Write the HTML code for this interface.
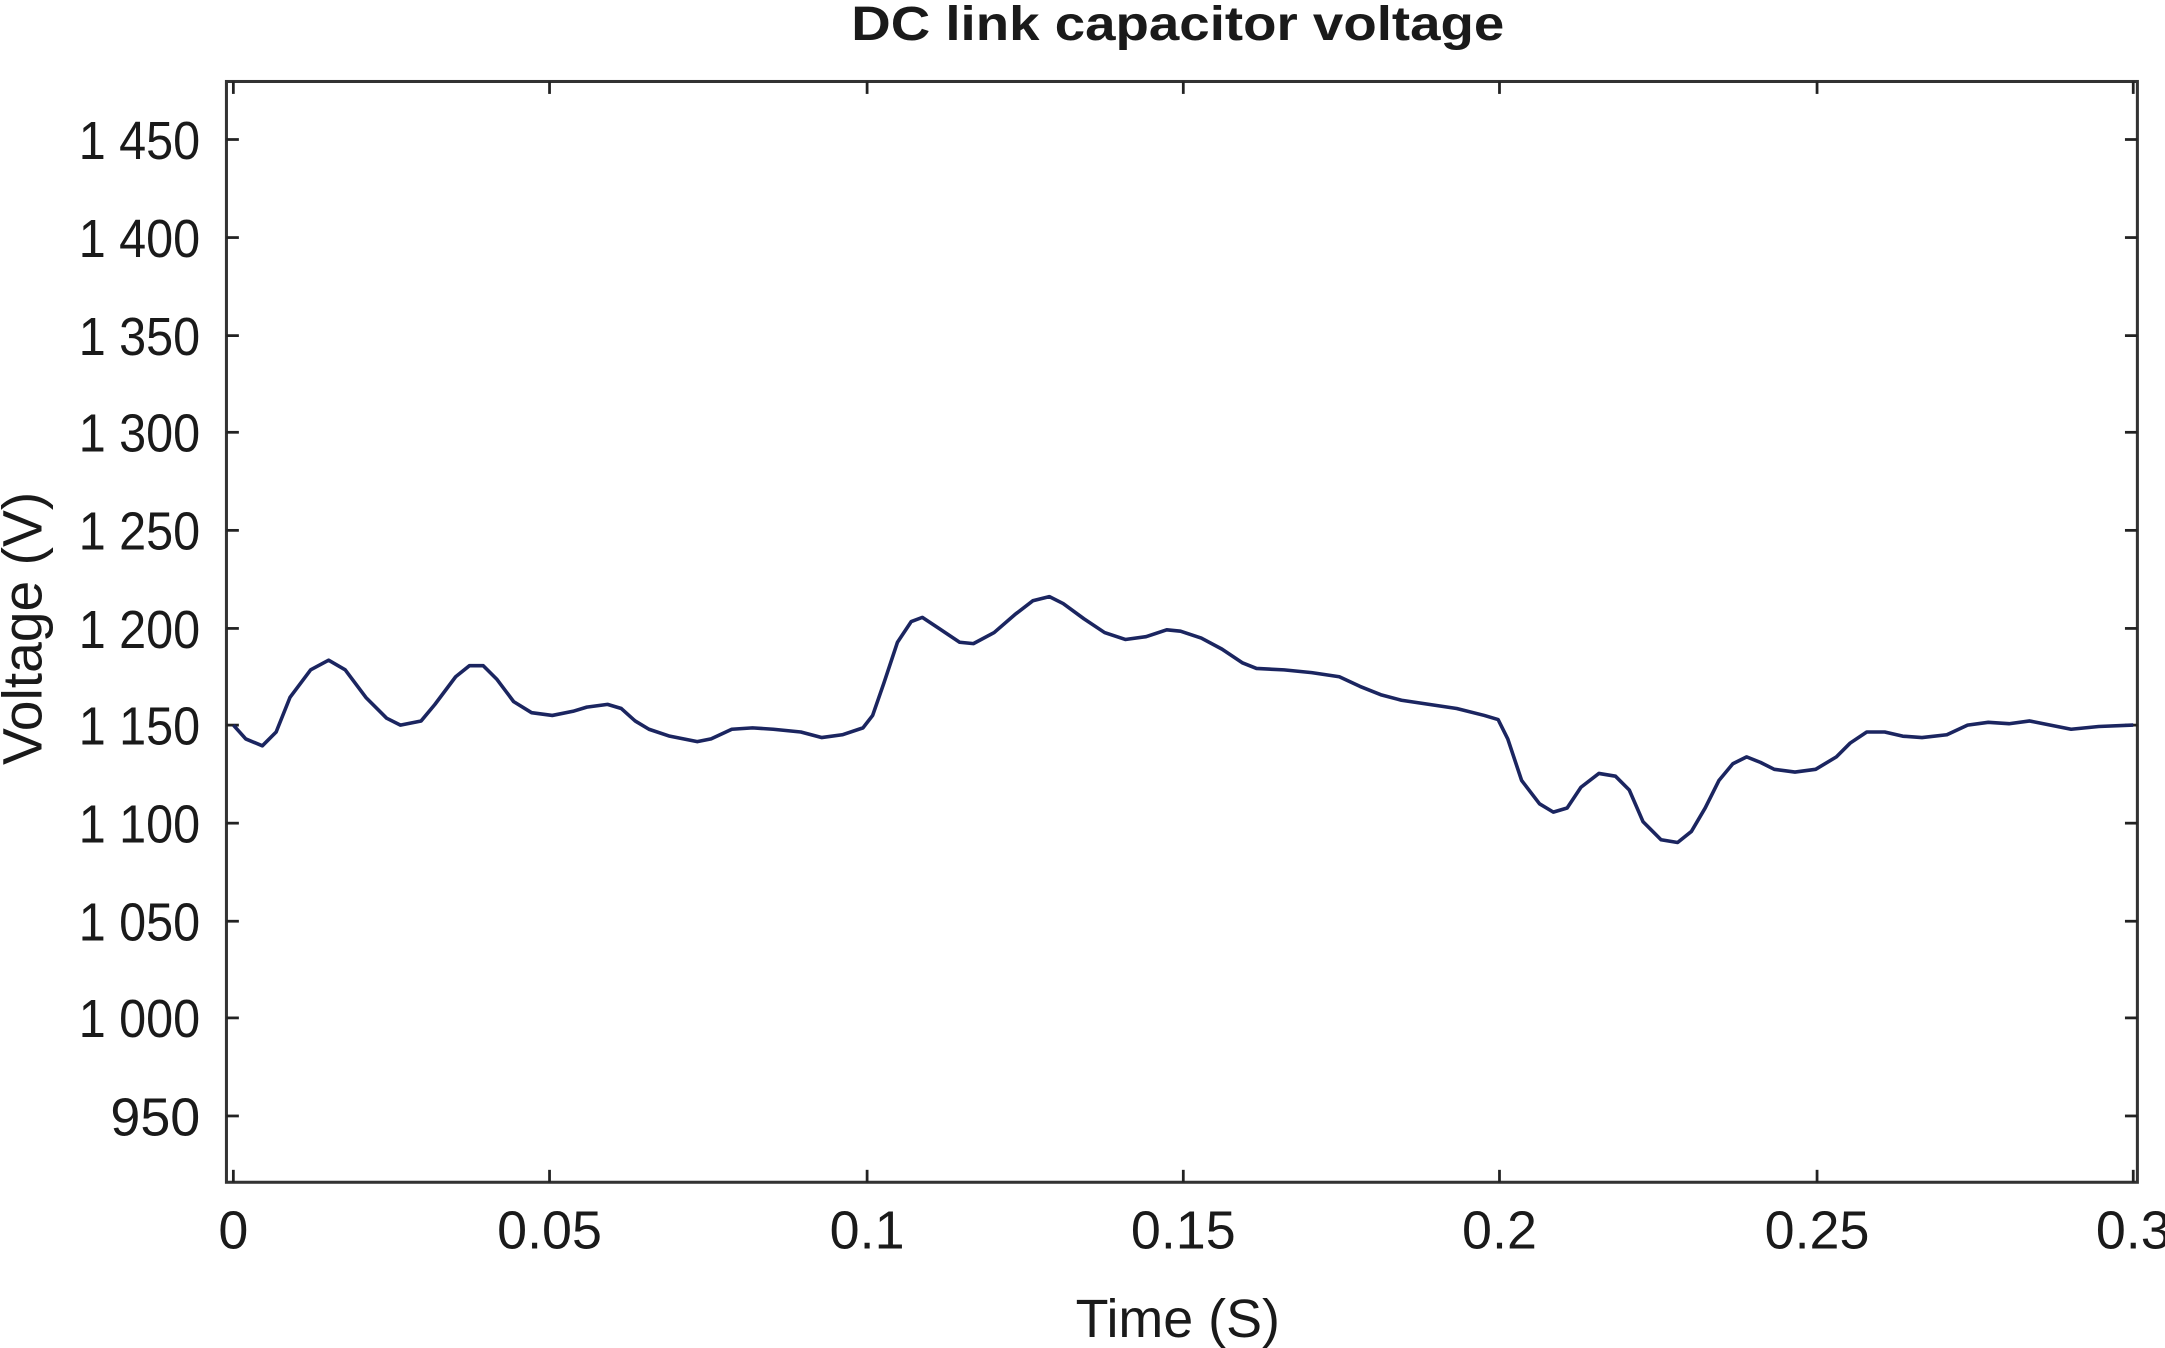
<!DOCTYPE html>
<html><head><meta charset="utf-8"><style>html,body{margin:0;padding:0;background:#fff}svg{display:block}</style></head>
<body>
<svg width="2165" height="1348" viewBox="0 0 1568 976" preserveAspectRatio="none" xmlns="http://www.w3.org/2000/svg" font-family="Liberation Sans, sans-serif">
<rect width="1568" height="976" fill="#fff"/>
<text x="853" y="29" text-anchor="middle" font-size="35" font-weight="bold" fill="#1a1a1a" textLength="473" lengthAdjust="spacingAndGlyphs">DC link capacitor voltage</text>
<rect x="164" y="59" width="1384" height="797" fill="none" stroke="#333" stroke-width="2.2"/>
<g stroke="#222" stroke-width="2">
<line x1="164" y1="101" x2="173" y2="101"/><line x1="1548" y1="101" x2="1539" y2="101"/>
<line x1="164" y1="172" x2="173" y2="172"/><line x1="1548" y1="172" x2="1539" y2="172"/>
<line x1="164" y1="243" x2="173" y2="243"/><line x1="1548" y1="243" x2="1539" y2="243"/>
<line x1="164" y1="313" x2="173" y2="313"/><line x1="1548" y1="313" x2="1539" y2="313"/>
<line x1="164" y1="384" x2="173" y2="384"/><line x1="1548" y1="384" x2="1539" y2="384"/>
<line x1="164" y1="455" x2="173" y2="455"/><line x1="1548" y1="455" x2="1539" y2="455"/>
<line x1="164" y1="525" x2="173" y2="525"/><line x1="1548" y1="525" x2="1539" y2="525"/>
<line x1="164" y1="596" x2="173" y2="596"/><line x1="1548" y1="596" x2="1539" y2="596"/>
<line x1="164" y1="667" x2="173" y2="667"/><line x1="1548" y1="667" x2="1539" y2="667"/>
<line x1="164" y1="737" x2="173" y2="737"/><line x1="1548" y1="737" x2="1539" y2="737"/>
<line x1="164" y1="808" x2="173" y2="808"/><line x1="1548" y1="808" x2="1539" y2="808"/>
<line x1="169" y1="856" x2="169" y2="847"/><line x1="169" y1="59" x2="169" y2="68"/>
<line x1="398" y1="856" x2="398" y2="847"/><line x1="398" y1="59" x2="398" y2="68"/>
<line x1="628" y1="856" x2="628" y2="847"/><line x1="628" y1="59" x2="628" y2="68"/>
<line x1="857" y1="856" x2="857" y2="847"/><line x1="857" y1="59" x2="857" y2="68"/>
<line x1="1086" y1="856" x2="1086" y2="847"/><line x1="1086" y1="59" x2="1086" y2="68"/>
<line x1="1316" y1="856" x2="1316" y2="847"/><line x1="1316" y1="59" x2="1316" y2="68"/>
<line x1="1545" y1="856" x2="1545" y2="847"/><line x1="1545" y1="59" x2="1545" y2="68"/>
</g>
<g font-size="39" fill="#1a1a1a" text-anchor="end">
<text x="145" y="115" textLength="88" lengthAdjust="spacingAndGlyphs">1 450</text>
<text x="145" y="186" textLength="88" lengthAdjust="spacingAndGlyphs">1 400</text>
<text x="145" y="257" textLength="88" lengthAdjust="spacingAndGlyphs">1 350</text>
<text x="145" y="327" textLength="88" lengthAdjust="spacingAndGlyphs">1 300</text>
<text x="145" y="398" textLength="88" lengthAdjust="spacingAndGlyphs">1 250</text>
<text x="145" y="469" textLength="88" lengthAdjust="spacingAndGlyphs">1 200</text>
<text x="145" y="539" textLength="88" lengthAdjust="spacingAndGlyphs">1 150</text>
<text x="145" y="610" textLength="88" lengthAdjust="spacingAndGlyphs">1 100</text>
<text x="145" y="681" textLength="88" lengthAdjust="spacingAndGlyphs">1 050</text>
<text x="145" y="751" textLength="88" lengthAdjust="spacingAndGlyphs">1 000</text>
<text x="145" y="822">950</text>
</g>
<g font-size="39" fill="#1a1a1a" text-anchor="middle">
<text x="169" y="904">0</text><text x="398" y="904">0.05</text><text x="628" y="904">0.1</text>
<text x="857" y="904">0.15</text><text x="1086" y="904">0.2</text><text x="1316" y="904">0.25</text><text x="1545" y="904">0.3</text>
<text x="853" y="968">Time (S)</text>
<text transform="translate(30,455) rotate(-90)" font-size="40">Voltage (V)</text>
</g>
<polyline fill="none" stroke="#1b2560" stroke-width="2.6" stroke-linejoin="round" points="169,525 178,535 190,540 200,530 210,505 225,485 238,478 250,485 265,505 280,520 290,525 305,522 315,510 330,490 340,482 350,482 360,492 372,508 385,516 400,518 415,515 425,512 440,510 450,513 460,522 470,528 485,533 505,537 515,535 530,528 545,527 560,528 580,530 595,534 610,532 625,527 632,518 640,495 650,465 660,450 668,447 680,455 695,465 705,466 720,458 735,445 748,435 760,432 770,437 785,448 800,458 815,463 830,461 845,456 855,457 870,462 885,470 900,480 910,484 930,485 950,487 970,490 985,497 1000,503 1015,507 1035,510 1055,513 1075,518 1085,521 1092,535 1102,565 1115,582 1125,588 1135,585 1145,570 1158,560 1170,562 1180,572 1190,595 1203,608 1215,610 1225,602 1235,585 1245,565 1255,553 1265,548 1275,552 1285,557 1300,559 1315,557 1330,548 1340,538 1352,530 1365,530 1378,533 1392,534 1410,532 1425,525 1440,523 1455,524 1470,522 1485,525 1500,528 1520,526 1545,525"/>
</svg>
</body></html>
